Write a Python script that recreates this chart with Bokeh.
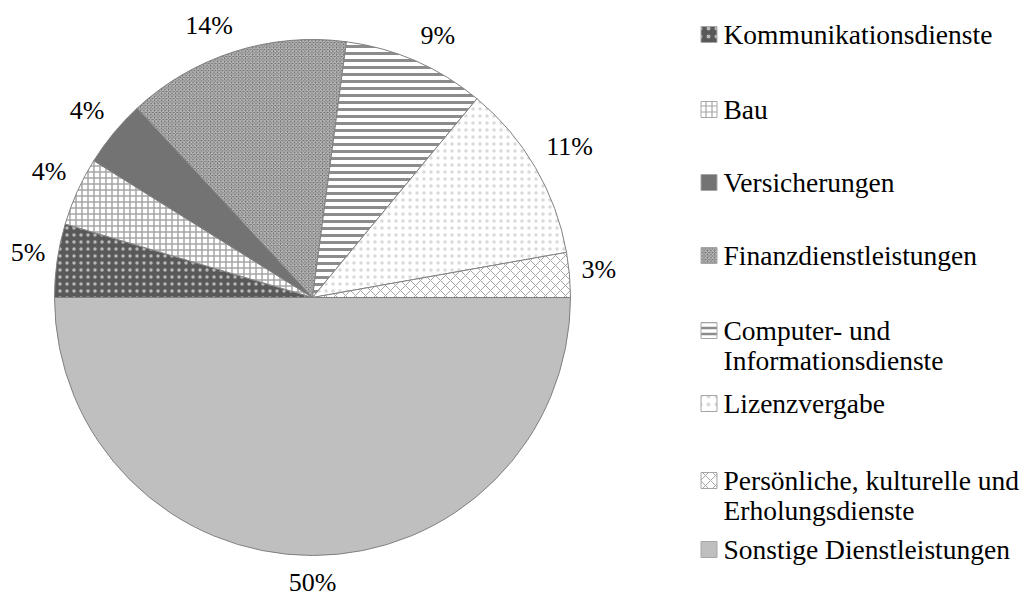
import math
from bokeh.plotting import figure
from bokeh.models import ColumnDataSource, Range1d
from bokeh.core.properties import value
from bokeh.embed import file_html
from bokeh.resources import INLINE

# ---- data ----
categories = [
    "Kommunikationsdienste",
    "Bau",
    "Versicherungen",
    "Finanzdienstleistungen",
    "Computer- und Informationsdienste",
    "Lizenzvergabe",
    "Persönliche, kulturelle und Erholungsdienste",
    "Sonstige Dienstleistungen",
]
legend_lines = [
    ["Kommunikationsdienste"],
    ["Bau"],
    ["Versicherungen"],
    ["Finanzdienstleistungen"],
    ["Computer- und", "Informationsdienste"],
    ["Lizenzvergabe"],
    ["Persönliche, kulturelle und", "Erholungsdienste"],
    ["Sonstige Dienstleistungen"],
]
shares = [4.6, 4.3, 4.2, 14.0, 8.9, 11.2, 2.8, 50.0]

# ---- styles ----
fill_colors = ["#595959", "#ffffff", "#737373", "#6e6e6e", "#ffffff", "#ffffff", "#ffffff", "#bfbfbf"]
hatch_patterns = ["dot", "cross", " ", "diagonal_cross", "horizontal_line", "dot", "diagonal_cross", " "]
hatch_colors = ["#d9d9d9", "#a6a6a6", "#737373", "#c8c8c8", "#8c8c8c", "#d0d0d0", "#a6a6a6", "#bfbfbf"]
hatch_alphas = [0.75, 1, 1, 1, 1, 0.8, 1, 1]
hatch_scales = [7, 6, 6, 3.5, 7, 7, 10, 6]
hatch_weights = [1, 1.5, 1, 1, 3, 1, 1, 1]
legend_hatch_scales = [8, 6, 6, 3.5, 6, 8, 10, 6]
legend_hatch_weights = [1, 1.2, 1, 1, 2.5, 1, 1, 1]

FONT = "Liberation Serif"
LABEL_PX = 26
W, H = 1026, 596
cx, cy, R = 312, H - 297, 258
pad, half_h, k = 12, 15, 3.0

total = sum(shares)
starts, ends, mids = [], [], []
cum = 0.0
for s in shares:
    a0 = math.pi - 2 * math.pi * cum / total
    cum += s
    a1 = math.pi - 2 * math.pi * cum / total
    starts.append(a0)
    ends.append(a1)
    mids.append((a0 + a1) / 2)

pct_labels = [f"{round(s / total * 100)}%" for s in shares]


def clamp(v):
    return max(-1.0, min(1.0, v))


lx, ly = [], []
for m, t in zip(mids, pct_labels):
    half_w = LABEL_PX * (0.5 * (len(t) - 1) + 0.833) / 2
    c, s = math.cos(m), math.sin(m)
    lx.append(cx + (R + pad) * c + half_w * clamp(k * c))
    ly.append(cy + (R + pad) * s + half_h * clamp(k * s))

p = figure(width=W, height=H, x_range=Range1d(0, W), y_range=Range1d(0, H),
           output_backend="svg", toolbar_location=None, min_border=0)
p.axis.visible = False
p.grid.visible = False
p.outline_line_color = None
p.background_fill_color = "white"

src = ColumnDataSource(dict(
    start=starts, end=ends, fill=fill_colors, hp=hatch_patterns, hc=hatch_colors,
    ha=hatch_alphas, hs=hatch_scales, hw=hatch_weights,
))
p.wedge(x=cx, y=cy, radius=R, start_angle="start", end_angle="end", direction="clock",
        source=src, fill_color="fill", hatch_pattern="hp", hatch_color="hc",
        hatch_alpha="ha", hatch_scale="hs", hatch_weight="hw",
        line_color="#808080", line_width=1)

lab_src = ColumnDataSource(dict(x=lx, y=ly, t=pct_labels))
p.text(x="x", y="y", text="t", source=lab_src, text_font=value(FONT),
       text_font_size=value(f"{LABEL_PX}px"), text_align="center", text_baseline="middle",
       text_color="#000000")

# ---- legend (manual) ----
row_y_img = [34, 109, 182, 255, 330, 403, 480, 549]
line_gap = 30
sq_x = 708.5
txt_x = 723
leg_src = ColumnDataSource(dict(
    x=[sq_x] * len(categories), y=[H - y for y in row_y_img], fill=fill_colors,
    hp=hatch_patterns, hc=hatch_colors, ha=hatch_alphas,
    hs=legend_hatch_scales, hw=legend_hatch_weights,
))
p.rect(x="x", y="y", width=16, height=16, source=leg_src, fill_color="fill",
       hatch_pattern="hp", hatch_color="hc", hatch_alpha="ha", hatch_scale="hs",
       hatch_weight="hw", line_color="#a6a6a6", line_width=1)

tx, ty, tt = [], [], []
for lines, yi in zip(legend_lines, row_y_img):
    for j, ln in enumerate(lines):
        tx.append(txt_x)
        ty.append(H - (yi + j * line_gap))
        tt.append(ln)
p.text(x=tx, y=ty, text=tt, text_font=value(FONT), text_font_size=value("27.5px"),
       text_align="left", text_baseline="middle", text_color="#000000")

open("out.html", "w").write(file_html(p, INLINE))
